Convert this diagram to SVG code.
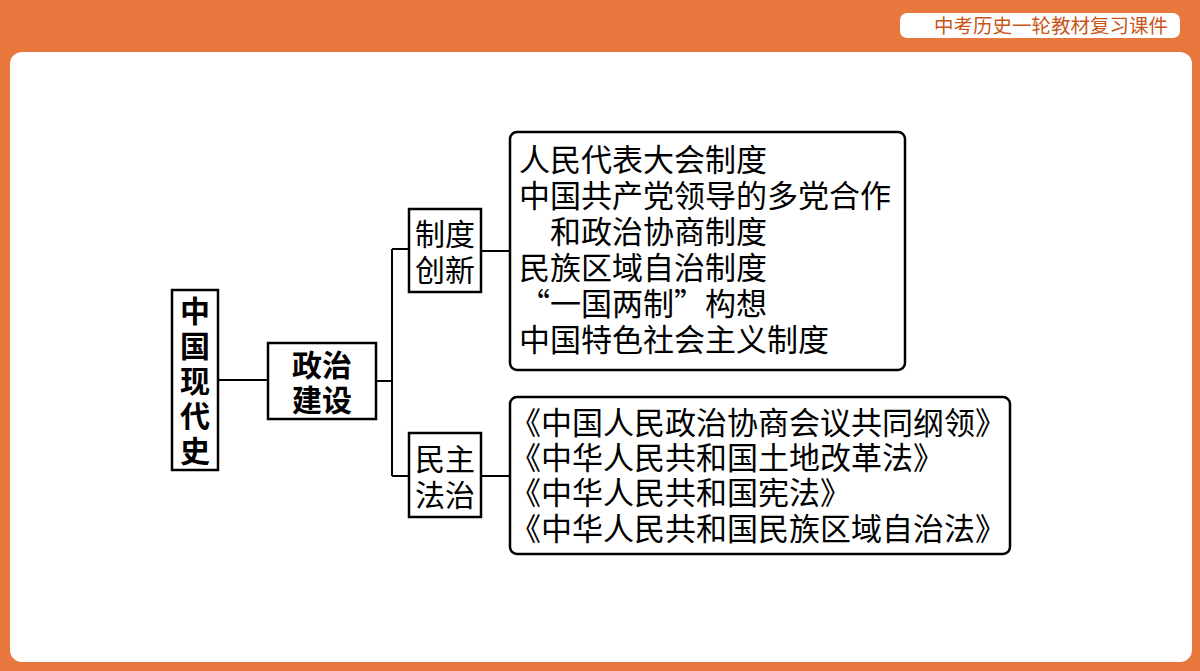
<svg xmlns="http://www.w3.org/2000/svg" width="1200" height="671" viewBox="0 0 1200 671">
<style>
.box{fill:#fff;stroke:#000;stroke-width:2.5}
.rbox{fill:#fff;stroke:#000;stroke-width:2.5}
.t{font-family:"Noto Sans CJK SC","Liberation Sans",sans-serif;font-size:31px;fill:#000}
.v{font-size:30px}
.b{font-weight:bold}
.c{fill:none;stroke:#000;stroke-width:2}
</style>
<rect width="1200" height="671" fill="#E8773E"/>
<rect x="10" y="52" width="1182" height="610" rx="12" fill="#fff"/>
<rect x="900" y="13" width="280" height="25" rx="7" fill="#fff"/>
<text x="1168" y="33" text-anchor="end" font-family="Noto Sans CJK SC,sans-serif" font-size="19.5" fill="#C8561A">中考历史一轮教材复习课件</text>
<g id="connectors">
<path class="c" d="M218 380H268M376 381H392M392 249V476M392 249H409M392 476H409M481 251H510M481 476H510"/>
</g>
<g id="n1"><rect class="box" x="172" y="290" width="46" height="180"/>
<text class="t b v" text-anchor="middle"><tspan x="195" y="322">中</tspan><tspan x="195" y="357">国</tspan><tspan x="195" y="392">现</tspan><tspan x="195" y="427">代</tspan><tspan x="195" y="462">史</tspan></text></g>
<g id="n2"><rect class="box" x="268" y="343" width="108" height="76"/>
<text class="t b v" text-anchor="middle"><tspan x="322" y="376">政治</tspan><tspan x="322" y="411">建设</tspan></text></g>
<g id="n3"><rect class="box" x="409" y="209" width="72" height="83"/>
<text class="t v" text-anchor="middle"><tspan x="445" y="245">制度</tspan><tspan x="445" y="281">创新</tspan></text></g>
<g id="n4"><rect class="box" x="409" y="433" width="72" height="84"/>
<text class="t v" text-anchor="middle"><tspan x="445" y="470">民主</tspan><tspan x="445" y="506">法治</tspan></text></g>
<g id="n5"><rect class="rbox" x="510" y="132" width="395" height="238" rx="7"/>
<text class="t"><tspan x="519" y="171">人民代表大会制度</tspan><tspan x="519" y="207">中国共产党领导的多党合作</tspan><tspan x="550" y="243">和政治协商制度</tspan><tspan x="519" y="279">民族区域自治制度</tspan><tspan x="519" y="315">“一国两制”构想</tspan><tspan x="519" y="351">中国特色社会主义制度</tspan></text></g>
<g id="n6"><rect class="rbox" x="510" y="397" width="500" height="157" rx="7"/>
<text class="t"><tspan x="510" y="434">《中国人民政治协商会议共同纲领》</tspan><tspan x="510" y="469">《中华人民共和国土地改革法》</tspan><tspan x="510" y="504">《中华人民共和国宪法》</tspan><tspan x="510" y="540">《中华人民共和国民族区域自治法》</tspan></text></g>
</svg>
